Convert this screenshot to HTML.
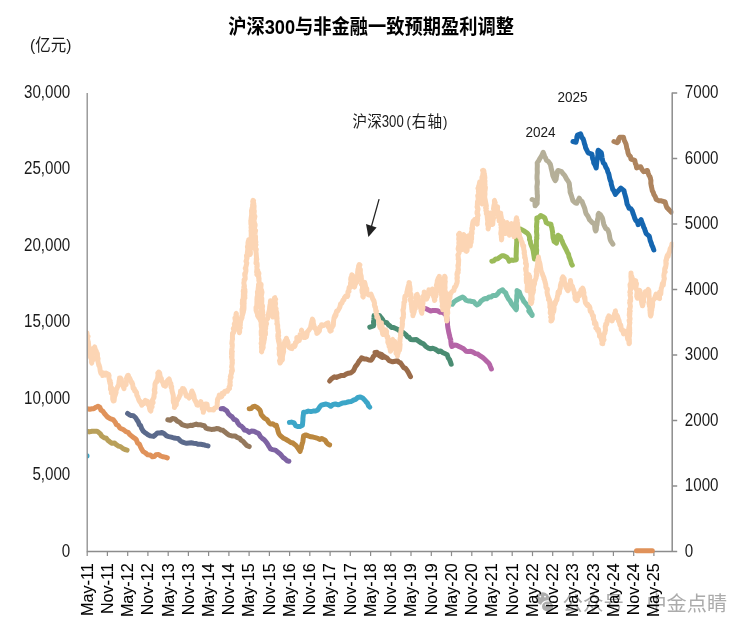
<!DOCTYPE html>
<html lang="zh"><head><meta charset="utf-8"><title>沪深300与非金融一致预期盈利调整</title>
<style>
html,body{margin:0;padding:0;background:#fff;}
body{width:752px;height:634px;overflow:hidden;position:relative;font-family:"Liberation Sans","Noto Sans CJK SC",sans-serif;}
svg{position:absolute;left:0;top:0;display:block;}
text{font-family:"Liberation Sans","Noto Sans CJK SC",sans-serif;fill:#1a1a1a;}
.ln{fill:none;stroke-width:5.0;stroke-linejoin:round;stroke-linecap:round;}
.ax{stroke:#8c8c8c;fill:none;}
</style></head><body>
<svg width="752" height="634" viewBox="0 0 752 634">
<rect width="752" height="634" fill="#fff"/>
<g fill="#ababab">
<ellipse cx="542.6" cy="598.6" rx="6.8" ry="6.3"/><ellipse cx="547.6" cy="606.4" rx="6.2" ry="5.6" stroke="#fff" stroke-width="1.2"/>
<circle cx="540.3" cy="596.6" r="0.9" fill="#fff"/><circle cx="545" cy="596.6" r="0.9" fill="#fff"/><circle cx="545.6" cy="605" r="0.8" fill="#fff"/><circle cx="549.6" cy="605" r="0.8" fill="#fff"/>
<text x="562.6" y="610.5" font-size="20.5" style="fill:#ababab">公众号</text><text x="634.5" y="610.5" font-size="20.5" text-anchor="middle" style="fill:#ababab">·</text><text x="646.4" y="610.5" font-size="20.2" style="fill:#ababab">中金点睛</text>
</g>
<text transform="translate(371.1,34.1) scale(1,1.13)" text-anchor="middle" font-size="18.25" font-weight="bold" style="fill:#000">沪深300与非金融一致预期盈利调整</text>
<text transform="translate(30.1,50.5) scale(1,1.08)" font-size="15.5">(亿元)</text>
<text transform="translate(70.3,556.5) scale(0.866,1)" text-anchor="end" font-size="17.5">0</text>
<text transform="translate(70.3,480.1) scale(0.866,1)" text-anchor="end" font-size="17.5">5,000</text>
<text transform="translate(70.3,403.7) scale(0.866,1)" text-anchor="end" font-size="17.5">10,000</text>
<text transform="translate(70.3,327.2) scale(0.866,1)" text-anchor="end" font-size="17.5">15,000</text>
<text transform="translate(70.3,250.8) scale(0.866,1)" text-anchor="end" font-size="17.5">20,000</text>
<text transform="translate(70.3,174.4) scale(0.866,1)" text-anchor="end" font-size="17.5">25,000</text>
<text transform="translate(70.3,98.0) scale(0.866,1)" text-anchor="end" font-size="17.5">30,000</text>
<path class="ax" stroke-width="1.5" d="M672.2,551.5 h5"/>
<text transform="translate(684.8,556.8) scale(0.866,1)" font-size="17.5">0</text>
<path class="ax" stroke-width="1.5" d="M672.2,486.0 h5"/>
<text transform="translate(684.8,491.3) scale(0.866,1)" font-size="17.5">1000</text>
<path class="ax" stroke-width="1.5" d="M672.2,420.5 h5"/>
<text transform="translate(684.8,425.8) scale(0.866,1)" font-size="17.5">2000</text>
<path class="ax" stroke-width="1.5" d="M672.2,355.0 h5"/>
<text transform="translate(684.8,360.3) scale(0.866,1)" font-size="17.5">3000</text>
<path class="ax" stroke-width="1.5" d="M672.2,289.5 h5"/>
<text transform="translate(684.8,294.8) scale(0.866,1)" font-size="17.5">4000</text>
<path class="ax" stroke-width="1.5" d="M672.2,224.0 h5"/>
<text transform="translate(684.8,229.3) scale(0.866,1)" font-size="17.5">5000</text>
<path class="ax" stroke-width="1.5" d="M672.2,158.5 h5"/>
<text transform="translate(684.8,163.8) scale(0.866,1)" font-size="17.5">6000</text>
<path class="ax" stroke-width="1.5" d="M672.2,93.0 h5"/>
<text transform="translate(684.8,98.3) scale(0.866,1)" font-size="17.5">7000</text>
<path class="ax" stroke-width="1.2" d="M87.2,551.5 v4.6"/>
<text transform="translate(92.5,563.4) rotate(-90)" text-anchor="end" font-size="16.1" style="fill:#000;stroke:#000;stroke-width:0.08">May-11</text>
<path class="ax" stroke-width="1.2" d="M107.4,551.5 v4.6"/>
<text transform="translate(112.7,563.4) rotate(-90)" text-anchor="end" font-size="16.1" style="fill:#000;stroke:#000;stroke-width:0.08">Nov-11</text>
<path class="ax" stroke-width="1.2" d="M127.7,551.5 v4.6"/>
<text transform="translate(133.0,563.4) rotate(-90)" text-anchor="end" font-size="16.1" style="fill:#000;stroke:#000;stroke-width:0.08">May-12</text>
<path class="ax" stroke-width="1.2" d="M147.9,551.5 v4.6"/>
<text transform="translate(153.2,563.4) rotate(-90)" text-anchor="end" font-size="16.1" style="fill:#000;stroke:#000;stroke-width:0.08">Nov-12</text>
<path class="ax" stroke-width="1.2" d="M168.2,551.5 v4.6"/>
<text transform="translate(173.5,563.4) rotate(-90)" text-anchor="end" font-size="16.1" style="fill:#000;stroke:#000;stroke-width:0.08">May-13</text>
<path class="ax" stroke-width="1.2" d="M188.4,551.5 v4.6"/>
<text transform="translate(193.7,563.4) rotate(-90)" text-anchor="end" font-size="16.1" style="fill:#000;stroke:#000;stroke-width:0.08">Nov-13</text>
<path class="ax" stroke-width="1.2" d="M208.6,551.5 v4.6"/>
<text transform="translate(213.9,563.4) rotate(-90)" text-anchor="end" font-size="16.1" style="fill:#000;stroke:#000;stroke-width:0.08">May-14</text>
<path class="ax" stroke-width="1.2" d="M228.9,551.5 v4.6"/>
<text transform="translate(234.2,563.4) rotate(-90)" text-anchor="end" font-size="16.1" style="fill:#000;stroke:#000;stroke-width:0.08">Nov-14</text>
<path class="ax" stroke-width="1.2" d="M249.1,551.5 v4.6"/>
<text transform="translate(254.4,563.4) rotate(-90)" text-anchor="end" font-size="16.1" style="fill:#000;stroke:#000;stroke-width:0.08">May-15</text>
<path class="ax" stroke-width="1.2" d="M269.4,551.5 v4.6"/>
<text transform="translate(274.7,563.4) rotate(-90)" text-anchor="end" font-size="16.1" style="fill:#000;stroke:#000;stroke-width:0.08">Nov-15</text>
<path class="ax" stroke-width="1.2" d="M289.6,551.5 v4.6"/>
<text transform="translate(294.9,563.4) rotate(-90)" text-anchor="end" font-size="16.1" style="fill:#000;stroke:#000;stroke-width:0.08">May-16</text>
<path class="ax" stroke-width="1.2" d="M309.8,551.5 v4.6"/>
<text transform="translate(315.1,563.4) rotate(-90)" text-anchor="end" font-size="16.1" style="fill:#000;stroke:#000;stroke-width:0.08">Nov-16</text>
<path class="ax" stroke-width="1.2" d="M330.1,551.5 v4.6"/>
<text transform="translate(335.4,563.4) rotate(-90)" text-anchor="end" font-size="16.1" style="fill:#000;stroke:#000;stroke-width:0.08">May-17</text>
<path class="ax" stroke-width="1.2" d="M350.3,551.5 v4.6"/>
<text transform="translate(355.6,563.4) rotate(-90)" text-anchor="end" font-size="16.1" style="fill:#000;stroke:#000;stroke-width:0.08">Nov-17</text>
<path class="ax" stroke-width="1.2" d="M370.6,551.5 v4.6"/>
<text transform="translate(375.9,563.4) rotate(-90)" text-anchor="end" font-size="16.1" style="fill:#000;stroke:#000;stroke-width:0.08">May-18</text>
<path class="ax" stroke-width="1.2" d="M390.8,551.5 v4.6"/>
<text transform="translate(396.1,563.4) rotate(-90)" text-anchor="end" font-size="16.1" style="fill:#000;stroke:#000;stroke-width:0.08">Nov-18</text>
<path class="ax" stroke-width="1.2" d="M411.0,551.5 v4.6"/>
<text transform="translate(416.3,563.4) rotate(-90)" text-anchor="end" font-size="16.1" style="fill:#000;stroke:#000;stroke-width:0.08">May-19</text>
<path class="ax" stroke-width="1.2" d="M431.3,551.5 v4.6"/>
<text transform="translate(436.6,563.4) rotate(-90)" text-anchor="end" font-size="16.1" style="fill:#000;stroke:#000;stroke-width:0.08">Nov-19</text>
<path class="ax" stroke-width="1.2" d="M451.5,551.5 v4.6"/>
<text transform="translate(456.8,563.4) rotate(-90)" text-anchor="end" font-size="16.1" style="fill:#000;stroke:#000;stroke-width:0.08">May-20</text>
<path class="ax" stroke-width="1.2" d="M471.8,551.5 v4.6"/>
<text transform="translate(477.1,563.4) rotate(-90)" text-anchor="end" font-size="16.1" style="fill:#000;stroke:#000;stroke-width:0.08">Nov-20</text>
<path class="ax" stroke-width="1.2" d="M492.0,551.5 v4.6"/>
<text transform="translate(497.3,563.4) rotate(-90)" text-anchor="end" font-size="16.1" style="fill:#000;stroke:#000;stroke-width:0.08">May-21</text>
<path class="ax" stroke-width="1.2" d="M512.2,551.5 v4.6"/>
<text transform="translate(517.5,563.4) rotate(-90)" text-anchor="end" font-size="16.1" style="fill:#000;stroke:#000;stroke-width:0.08">Nov-21</text>
<path class="ax" stroke-width="1.2" d="M532.5,551.5 v4.6"/>
<text transform="translate(537.8,563.4) rotate(-90)" text-anchor="end" font-size="16.1" style="fill:#000;stroke:#000;stroke-width:0.08">May-22</text>
<path class="ax" stroke-width="1.2" d="M552.7,551.5 v4.6"/>
<text transform="translate(558.0,563.4) rotate(-90)" text-anchor="end" font-size="16.1" style="fill:#000;stroke:#000;stroke-width:0.08">Nov-22</text>
<path class="ax" stroke-width="1.2" d="M573.0,551.5 v4.6"/>
<text transform="translate(578.3,563.4) rotate(-90)" text-anchor="end" font-size="16.1" style="fill:#000;stroke:#000;stroke-width:0.08">May-23</text>
<path class="ax" stroke-width="1.2" d="M593.2,551.5 v4.6"/>
<text transform="translate(598.5,563.4) rotate(-90)" text-anchor="end" font-size="16.1" style="fill:#000;stroke:#000;stroke-width:0.08">Nov-23</text>
<path class="ax" stroke-width="1.2" d="M613.4,551.5 v4.6"/>
<text transform="translate(618.7,563.4) rotate(-90)" text-anchor="end" font-size="16.1" style="fill:#000;stroke:#000;stroke-width:0.08">May-24</text>
<path class="ax" stroke-width="1.2" d="M633.7,551.5 v4.6"/>
<text transform="translate(639.0,563.4) rotate(-90)" text-anchor="end" font-size="16.1" style="fill:#000;stroke:#000;stroke-width:0.08">Nov-24</text>
<path class="ax" stroke-width="1.2" d="M653.9,551.5 v4.6"/>
<text transform="translate(659.2,563.4) rotate(-90)" text-anchor="end" font-size="16.1" style="fill:#000;stroke:#000;stroke-width:0.08">May-25</text>
<clipPath id="pc"><rect x="87.2" y="80" width="586.2" height="480"/></clipPath><g clip-path="url(#pc)">
<path class="ln" stroke="#B9A05A" d="M86.9,431.2 L89.2,431.9 L92.1,431.2 L94.2,431.3 L96.8,431.2 L98.4,432.2 L100.2,433.6 L101.6,435.9 L104.2,437.8 L106.3,438.3 L107.8,440.2 L109.8,441.8 L112.1,443.3 L114.6,443.0 L116.3,444.7 L118.5,446.1 L120.5,446.6 L122.8,448.4 L125.0,449.5 L127.1,450.1"/>
<path class="ln" stroke="#E0925A" d="M86.9,408.7 L89.6,409.3 L92.1,408.7 L93.8,408.7 L96.1,407.2 L98.0,406.3 L99.8,407.2 L100.9,410.0 L102.7,411.1 L104.6,413.7 L105.6,414.8 L107.5,417.0 L110.1,418.6 L112.2,419.4 L113.5,419.9 L115.4,422.4 L116.4,424.7 L118.1,425.3 L119.8,427.9 L121.9,428.9 L124.0,430.0 L125.9,431.7 L128.1,432.3 L129.9,434.7 L132.3,436.7 L134.7,438.3 L136.2,439.5 L137.6,443.1 L139.4,444.2 L140.8,447.5 L141.5,448.9 L143.0,451.3 L145.6,453.0 L147.7,454.8 L150.3,455.0 L152.4,456.7 L154.3,456.6 L156.0,454.8 L158.6,454.4 L160.7,456.0 L163.1,456.8 L165.2,457.1 L167.3,457.9"/>
<path class="ln" stroke="#5B6A8C" d="M127.6,413.4 L129.8,415.0 L131.3,415.6 L133.5,415.8 L135.4,417.5 L136.8,419.7 L138.2,421.7 L139.4,424.9 L140.5,425.5 L141.8,428.8 L143.2,431.1 L145.0,432.7 L146.5,433.6 L148.0,434.8 L150.1,435.9 L153.6,436.4 L155.2,435.0 L157.2,433.1 L159.2,433.1 L161.9,432.4 L164.3,433.7 L166.6,435.9 L168.8,436.6 L171.3,437.1 L173.9,438.0 L176.1,438.3 L178.1,438.5 L180.3,440.8 L182.0,441.8 L184.1,442.6 L186.6,443.3 L189.1,443.0 L191.2,442.8 L193.6,443.2 L196.2,443.5 L198.3,444.3 L200.6,444.2 L203.3,444.7 L205.6,445.4 L208.0,445.9"/>
<path class="ln" stroke="#94785C" d="M167.8,419.8 L170.3,420.3 L172.5,418.5 L174.9,418.9 L177.5,421.3 L179.6,422.2 L182.1,424.6 L184.4,425.3 L187.4,426.2 L190.3,425.3 L192.5,425.4 L193.9,424.8 L196.2,424.1 L198.3,424.8 L200.3,424.7 L202.1,425.3 L204.3,425.7 L206.1,428.2 L208.0,428.8 L211.2,429.4 L213.9,429.3 L216.3,428.6 L218.9,428.8 L221.0,430.0 L223.0,430.3 L224.7,431.8 L226.9,433.6 L229.2,435.2 L231.7,435.9 L235.0,435.9 L237.1,437.3 L239.7,438.3 L241.1,440.2 L243.1,441.4 L244.5,443.0 L246.8,445.4 L249.2,446.6"/>
<path class="ln" stroke="#7E63A3" d="M221.0,408.7 L223.1,408.5 L225.2,409.8 L226.9,411.1 L228.6,414.0 L230.5,415.8 L232.0,416.7 L234.0,419.4 L235.0,419.4 L236.7,420.7 L237.9,423.2 L239.7,425.3 L241.0,425.9 L242.8,427.5 L244.5,430.0 L246.8,430.5 L249.2,432.4 L251.4,431.0 L253.9,431.2 L256.4,432.5 L258.7,433.6 L260.5,436.7 L262.2,438.3 L263.7,439.3 L265.1,440.7 L266.9,443.0 L268.4,445.6 L269.3,447.0 L270.5,448.9 L272.6,449.6 L275.2,450.1 L277.7,452.0 L279.9,453.7 L281.5,455.5 L283.1,457.5 L284.7,458.4 L287.1,460.8 L288.9,461.2"/>
<path class="ln" stroke="#BB873E" d="M249.2,408.7 L251.2,408.5 L252.9,406.7 L255.1,406.3 L257.8,407.9 L259.8,409.9 L260.4,411.2 L261.2,414.5 L262.2,415.8 L264.5,418.3 L266.9,419.4 L268.8,422.4 L270.5,424.1 L272.7,423.7 L274.7,425.4 L276.4,425.3 L277.0,427.5 L277.8,430.1 L277.9,430.7 L278.8,433.6 L280.2,435.6 L281.9,436.9 L283.5,438.3 L285.7,439.3 L288.2,440.7 L290.8,442.5 L293.0,443.0 L294.4,444.3 L296.0,445.5 L297.7,447.8 L298.9,449.5 L300.1,451.3 L300.5,449.7 L301.3,448.0 L301.6,445.7 L302.4,443.0 L302.9,441.4 L303.2,438.9 L303.6,435.9 L305.8,434.9 L308.3,435.9 L310.9,436.8 L313.1,437.1 L315.3,437.6 L317.8,438.3 L319.7,439.5 L321.7,438.5 L323.7,439.5 L325.2,440.2 L326.5,442.5 L328.2,444.3 L329.6,444.9"/>
<path class="ln" stroke="#3CA6C8" d="M289.4,422.4 L291.5,422.1 L294.1,422.9 L295.6,425.6 L297.7,426.5 L299.9,426.6 L302.4,425.3 L302.7,422.3 L302.9,420.2 L302.9,418.5 L303.1,416.4 L303.5,413.6 L303.6,412.3 L306.2,411.9 L308.3,411.1 L310.8,411.6 L313.1,411.1 L315.4,411.1 L317.8,409.9 L319.8,406.8 L321.3,405.2 L323.8,404.5 L326.1,404.0 L328.7,404.9 L330.8,406.3 L333.0,404.5 L335.5,404.0 L338.2,404.8 L340.3,404.0 L342.6,402.9 L345.0,402.8 L346.8,402.3 L348.9,401.8 L350.9,401.6 L353.4,400.2 L355.7,399.3 L357.8,397.5 L360.4,396.9 L363.0,398.3 L365.1,400.4 L366.4,402.2 L367.5,403.2 L368.5,405.7 L369.8,407.1"/>
<path class="ln" stroke="#9B6C4A" d="M329.6,381.0 L331.4,378.8 L332.5,378.1 L334.4,376.8 L336.5,377.4 L339.1,376.3 L341.5,375.4 L343.8,375.6 L346.0,374.2 L348.6,373.2 L351.2,372.7 L353.3,370.9 L354.2,369.3 L355.4,366.6 L356.8,364.9 L357.7,363.6 L359.2,361.0 L360.7,359.3 L361.6,357.9 L364.1,358.9 L366.3,359.0 L368.8,360.0 L371.0,360.2 L372.2,358.9 L373.3,356.6 L374.5,355.4 L375.8,353.1 L377.9,353.4 L380.5,354.3 L382.8,356.2 L385.0,356.7 L383.1,355.9 L381.2,354.2 L378.9,354.6 L377.0,352.3 L375.0,352.4 L377.3,354.1 L379.7,355.9 L382.1,357.4 L384.5,357.1 L386.8,357.9 L389.2,360.7 L392.7,361.8 L395.2,361.2 L397.5,360.7 L399.2,362.4 L400.5,362.9 L402.2,365.4 L403.7,367.6 L405.5,368.4 L406.9,370.1 L408.3,372.3 L409.3,374.3 L410.5,376.7"/>
<path class="ln" stroke="#4A8C72" d="M369.8,327.2 L373.4,326.0 L373.8,324.6 L373.5,322.1 L373.8,320.0 L374.0,317.4 L374.1,315.4 L377.0,315.6 L379.3,315.4 L381.0,317.5 L382.9,320.1 L381.4,318.1 L379.9,317.0 L378.5,315.7 L380.3,318.2 L382.1,320.4 L384.6,322.3 L386.8,322.8 L388.5,325.0 L390.0,325.9 L391.6,327.5 L393.7,327.6 L396.3,328.7 L398.5,329.9 L401.0,332.3 L403.1,332.5 L405.8,334.6 L407.6,337.0 L409.0,337.3 L410.5,339.4 L413.2,339.7 L416.4,339.4 L419.0,341.4 L421.1,342.9 L423.5,343.8 L425.9,346.5 L428.4,348.1 L430.6,348.8 L432.8,348.2 L434.8,349.0 L436.5,350.0 L438.5,351.7 L440.6,350.9 L442.4,352.4 L444.8,353.5 L447.2,354.7 L448.3,358.0 L449.5,359.5 L450.4,361.9 L451.2,364.2"/>
<path class="ln" stroke="#B565A7" d="M425.9,308.6 L428.1,309.8 L430.6,311.0 L433.1,310.4 L435.3,310.5 L437.6,310.8 L440.1,312.2 L442.1,312.3 L443.9,313.2 L446.0,313.3 L446.2,316.4 L446.8,317.1 L447.2,320.4 L447.5,322.1 L447.5,324.8 L447.8,327.2 L448.3,329.9 L448.8,332.6 L449.6,335.6 L449.9,337.6 L450.7,339.4 L450.8,340.9 L451.2,344.8 L451.9,346.5 L454.4,345.1 L456.6,345.3 L459.0,346.5 L461.3,347.6 L463.6,348.8 L466.1,351.2 L468.2,351.5 L470.8,351.2 L473.0,352.1 L475.5,353.6 L477.7,354.0 L480.3,355.9 L482.9,357.6 L485.0,359.5 L486.5,361.1 L488.6,363.0 L489.5,364.3 L490.3,366.4 L491.4,368.9"/>
<path class="ln" stroke="#72BDA8" d="M452.3,304.2 L454.1,301.7 L456.3,300.2 L459.5,298.6 L462.7,297.0 L464.2,298.0 L465.9,300.2 L468.1,301.0 L469.9,301.0 L472.1,301.6 L473.9,301.8 L475.2,303.5 L477.1,305.0 L479.2,303.6 L481.1,301.0 L483.3,299.4 L485.1,298.6 L486.8,298.8 L489.0,297.0 L491.3,296.9 L493.0,295.4 L496.2,295.4 L498.1,293.3 L499.4,291.4 L502.6,289.8 L503.9,291.5 L505.8,293.0 L506.5,295.2 L507.4,296.8 L508.2,298.6 L509.9,300.5 L511.4,303.4 L513.8,306.6 L516.2,309.8 L516.5,308.4 L516.5,305.7 L516.2,303.0 L516.6,301.0 L516.6,299.9 L516.8,297.9 L516.8,295.6 L517.2,293.3 L517.0,290.6 L519.4,292.2 L520.4,295.3 L521.3,296.9 L522.5,298.6 L523.9,301.6 L525.7,303.4 L527.5,306.0 L528.9,308.2 L530.0,310.7 L531.0,312.7 L532.1,314.6 L530.3,312.3 L528.8,310.9 L530.7,313.4 L532.1,315.4"/>
<path class="ln" stroke="#9BBB59" d="M491.8,261.2 L493.6,260.9 L495.8,258.9 L497.8,258.7 L499.7,257.3 L501.9,255.8 L503.7,255.7 L506.8,257.3 L508.2,259.0 L509.2,261.2 L511.4,259.9 L513.1,260.4 L516.3,259.7 L516.3,258.2 L516.1,256.1 L516.2,254.3 L516.3,251.3 L516.3,249.9 L516.4,247.2 L516.6,245.0 L516.7,242.5 L516.8,241.1 L516.6,238.4 L516.9,236.5 L517.4,233.2 L517.5,230.9 L517.5,228.9 L520.0,228.9 L521.8,229.7 L523.5,230.6 L525.7,232.1 L527.4,233.3 L528.9,235.2 L529.6,237.5 L529.5,239.6 L530.3,241.1 L530.5,243.1 L531.3,245.4 L532.2,247.4 L532.8,249.4 L533.2,250.9 L533.8,254.8 L534.1,256.7 L534.4,258.9 L536.5,257.3 L536.6,255.7 L536.4,253.5 L536.7,250.3 L536.3,248.0 L536.5,246.1 L536.4,244.7 L536.4,242.7 L536.4,240.2 L536.9,238.2 L536.6,237.5 L536.9,235.4 L536.5,231.7 L536.6,230.5 L536.7,227.9 L536.5,226.8 L536.7,223.7 L537.0,221.4 L536.8,220.2 L536.8,217.9 L538.8,217.5 L540.7,215.5 L542.9,216.7 L544.7,217.9 L545.4,219.7 L546.2,222.6 L548.4,223.8 L551.0,224.2 L551.2,226.0 L552.0,228.4 L552.0,229.1 L552.6,232.1 L552.7,233.7 L553.1,237.8 L553.8,240.0 L554.1,241.5 L556.5,243.1 L556.9,241.2 L557.1,238.8 L557.4,237.2 L558.1,235.2 L560.4,236.8 L561.0,238.8 L562.3,241.3 L562.8,243.1 L564.0,245.4 L565.2,247.8 L566.1,249.4 L567.5,252.6 L568.5,254.1 L569.0,256.7 L569.9,258.9 L570.9,261.8 L571.3,263.5 L572.3,265.2"/>
<path class="ln" stroke="#B5AF98" d="M532.1,199.5 L535.1,200.8 L535.0,203.7 L535.1,205.8 L537.2,203.3 L537.1,200.7 L537.3,200.2 L537.4,197.0 L537.4,195.2 L537.2,193.9 L537.2,191.5 L537.0,189.0 L536.9,186.5 L537.0,185.8 L537.3,183.8 L537.4,181.7 L537.0,178.5 L537.0,176.1 L537.1,174.8 L537.3,172.9 L537.3,171.9 L537.2,169.1 L537.3,166.3 L537.3,164.5 L537.2,162.9 L538.6,160.9 L540.2,157.9 L541.2,156.6 L542.3,154.5 L543.2,152.3 L544.1,154.7 L544.6,156.7 L545.4,157.6 L546.5,160.4 L548.3,161.4 L550.3,164.2 L551.0,167.1 L551.1,167.8 L552.0,171.5 L552.2,172.3 L552.8,175.5 L554.2,178.9 L555.3,180.6 L556.1,179.2 L556.4,176.7 L556.8,174.9 L557.1,172.3 L557.9,170.5 L561.6,171.7 L563.1,173.7 L564.4,175.1 L565.4,176.8 L567.0,179.7 L567.8,180.6 L569.2,183.1 L569.5,185.4 L569.6,187.0 L570.0,189.0 L570.1,191.9 L570.5,193.2 L571.5,195.9 L572.4,199.1 L573.0,200.8 L574.8,202.6 L576.8,203.3 L577.9,200.9 L579.3,198.2 L580.6,200.5 L582.1,201.6 L583.1,204.5 L584.0,206.5 L584.8,208.6 L585.6,212.1 L586.3,214.1 L587.6,215.8 L588.6,217.6 L589.4,219.7 L590.8,221.0 L592.5,222.9 L594.4,223.5 L594.6,225.6 L595.0,229.3 L595.7,231.0 L596.3,229.7 L596.5,226.4 L597.0,224.7 L597.4,221.3 L597.5,219.6 L598.1,217.3 L598.1,214.8 L598.7,213.4 L600.5,214.8 L602.0,217.2 L602.7,219.2 L603.0,220.7 L603.8,224.4 L604.5,226.0 L605.8,228.5 L607.3,229.4 L608.3,231.0 L608.9,232.9 L609.3,234.5 L609.8,237.9 L610.3,239.9 L610.9,241.1 L612.9,244.2"/>
<path class="ln" stroke="#1566B0" d="M573.0,141.5 L576.0,142.2 L576.7,139.2 L576.9,136.8 L577.5,135.1 L580.6,133.9 L581.8,137.3 L583.1,138.9 L583.8,140.8 L584.6,144.1 L585.1,145.3 L585.6,147.8 L586.9,150.2 L588.1,152.8 L591.9,154.1 L592.2,156.3 L592.7,158.9 L593.5,160.5 L593.7,162.9 L594.8,164.6 L596.2,167.9 L596.4,166.0 L596.7,162.6 L596.8,161.4 L597.5,158.1 L597.6,157.3 L598.0,155.0 L597.8,151.9 L598.2,150.3 L601.3,152.8 L601.7,154.7 L602.0,157.6 L602.2,159.0 L602.8,161.1 L603.3,162.9 L604.7,164.1 L605.8,167.1 L607.1,169.2 L607.9,172.2 L608.6,173.3 L609.1,175.4 L609.6,178.0 L610.5,181.0 L611.0,181.5 L611.3,184.2 L612.1,186.9 L612.8,189.5 L613.7,190.5 L614.4,192.3 L615.4,194.4 L617.0,192.2 L618.4,190.7 L620.9,188.1 L624.0,190.7 L624.6,193.4 L625.1,195.1 L625.7,197.2 L626.2,199.1 L626.5,200.8 L627.1,204.1 L628.4,206.5 L629.0,208.3 L630.8,208.6 L632.3,210.9 L632.9,213.0 L633.8,215.3 L634.8,218.4 L635.9,220.6 L637.3,221.7 L638.1,224.7 L639.5,221.6 L641.1,219.7 L642.1,222.9 L642.9,224.5 L643.7,227.3 L644.5,228.6 L645.2,230.9 L646.2,233.6 L649.2,236.1 L649.6,237.5 L650.2,240.5 L651.4,243.5 L651.7,244.9 L652.8,247.2 L653.8,250.0"/>
<path class="ln" stroke="#AE845E" d="M613.9,141.5 L617.2,142.7 L618.3,141.6 L618.6,139.0 L619.7,137.2 L623.5,137.2 L624.2,140.2 L625.2,142.3 L626.0,144.0 L626.3,145.3 L626.8,148.2 L627.5,149.9 L628.0,152.8 L628.9,155.2 L630.3,156.2 L631.0,159.1 L634.8,160.4 L635.4,163.8 L636.0,164.6 L636.6,167.9 L638.8,166.9 L640.6,166.7 L642.1,169.7 L643.7,171.7 L647.4,170.5 L648.3,173.5 L649.0,175.5 L650.0,176.8 L650.3,178.2 L650.9,180.4 L650.8,183.4 L651.2,185.6 L651.8,188.2 L652.3,190.8 L653.4,192.8 L653.8,194.4 L655.2,196.6 L656.3,199.5 L659.0,200.7 L661.3,200.8 L665.1,202.0 L665.8,204.7 L666.7,207.2 L667.6,208.3 L669.5,210.3 L671.4,212.1"/>
<path class="ln" stroke="#3CA6C8" stroke-width="4.4" d="M87,455.7 v0.2"/>
<path class="ln" stroke="#FCD5B4" stroke-width="5.7" d="M87.0,333.0 L87.2,336.4 L87.0,337.4 L88.0,336.5 L87.2,336.9 L88.2,341.9 L87.9,343.3 L88.3,341.6 L88.6,344.7 L88.5,346.0 L89.2,347.1 L89.2,349.3 L89.4,351.5 L89.5,352.3 L89.3,351.8 L89.9,355.5 L90.2,356.9 L90.6,357.0 L91.6,360.2 L91.4,361.9 L91.8,363.1 L92.0,360.7 L92.6,359.5 L92.9,360.0 L92.2,356.4 L92.4,356.2 L92.4,354.4 L93.0,351.9 L93.8,350.8 L93.8,348.2 L94.7,347.0 L95.3,349.5 L95.5,350.0 L96.3,351.0 L96.4,353.3 L96.8,353.4 L97.4,353.5 L97.5,356.8 L96.8,357.8 L98.1,358.5 L97.8,360.9 L98.3,363.0 L98.9,365.7 L98.9,364.4 L99.7,367.1 L99.8,367.5 L100.2,370.8 L100.9,373.2 L101.7,372.3 L102.5,374.1 L102.7,375.6 L103.8,373.1 L105.2,375.0 L106.3,373.2 L108.7,374.4 L109.1,375.7 L108.8,376.0 L108.9,377.6 L109.6,381.8 L110.2,380.8 L109.9,383.4 L110.7,383.2 L110.6,386.2 L110.5,389.5 L111.2,387.3 L112.1,388.5 L111.3,392.9 L112.2,393.1 L112.1,393.1 L112.7,395.2 L112.7,399.1 L113.3,400.9 L113.9,400.4 L114.1,400.8 L114.3,398.8 L114.9,394.1 L114.9,396.1 L116.1,392.4 L116.0,392.2 L116.0,390.1 L116.9,388.6 L117.2,387.8 L118.1,385.7 L118.7,384.7 L118.9,383.0 L119.2,380.4 L119.4,381.5 L119.5,378.0 L120.5,378.0 L121.4,379.4 L121.2,380.9 L121.8,383.0 L122.2,383.3 L122.2,383.6 L123.0,386.1 L123.0,386.0 L124.0,388.6 L124.1,385.6 L124.9,384.2 L124.9,382.8 L126.1,384.7 L126.1,381.8 L126.9,380.8 L126.5,378.3 L126.8,377.5 L127.6,375.6 L128.3,375.3 L129.1,378.6 L129.7,378.1 L131.1,381.5 L132.0,382.5 L131.7,383.2 L132.6,383.8 L133.1,388.2 L133.3,387.7 L134.3,388.8 L134.7,391.0 L135.1,390.5 L136.6,392.7 L136.8,395.2 L137.8,396.8 L138.2,398.1 L139.0,400.4 L139.9,401.8 L140.6,401.5 L141.0,403.4 L141.8,405.2 L142.2,403.9 L143.9,402.7 L144.1,403.6 L145.3,400.4 L147.7,401.6 L147.9,402.1 L148.5,405.3 L149.2,404.5 L149.5,408.3 L150.0,410.1 L150.7,411.0 L150.8,411.1 L151.0,410.0 L151.1,407.4 L152.1,406.9 L151.6,404.3 L152.3,403.9 L153.1,402.7 L152.4,400.0 L153.9,397.7 L153.6,398.1 L154.1,396.5 L153.9,396.7 L154.3,393.7 L155.0,392.6 L154.3,389.3 L154.3,390.8 L154.9,388.7 L154.9,387.9 L155.0,383.7 L155.2,384.1 L156.0,381.5 L156.9,381.6 L157.2,379.4 L157.5,379.3 L158.1,374.6 L157.8,373.0 L158.7,372.2 L158.8,372.0 L159.7,373.1 L160.1,376.1 L159.8,374.5 L160.9,379.4 L161.3,378.3 L161.5,380.8 L161.9,381.5 L162.5,381.6 L163.7,385.5 L164.6,384.9 L165.4,386.2 L166.4,383.1 L167.3,383.2 L167.3,380.8 L167.9,380.1 L169.0,379.1 L169.1,379.0 L170.2,382.8 L170.6,383.4 L170.9,383.6 L171.0,387.1 L171.7,386.6 L171.6,388.1 L172.1,391.0 L172.1,391.2 L173.1,394.7 L173.3,396.1 L173.3,398.7 L173.4,399.2 L173.2,400.7 L173.4,401.0 L173.4,402.2 L174.2,403.6 L174.6,405.5 L174.4,407.5 L175.4,405.1 L175.1,406.0 L176.3,404.8 L176.4,401.2 L177.3,400.4 L178.0,398.9 L178.6,398.2 L179.6,395.7 L180.3,394.8 L180.5,391.1 L181.7,391.1 L182.2,390.9 L182.5,388.6 L183.6,388.8 L184.4,390.0 L184.8,391.2 L185.5,393.3 L186.4,396.2 L187.0,396.4 L188.7,396.8 L189.1,398.1 L189.6,397.6 L190.7,394.4 L190.7,395.7 L191.0,393.9 L191.9,391.0 L192.7,393.4 L192.8,392.8 L193.6,395.1 L193.9,395.8 L193.9,395.9 L194.6,399.8 L195.0,400.4 L196.0,402.4 L196.0,401.3 L197.0,405.1 L198.1,405.2 L199.2,404.1 L200.4,403.7 L200.9,401.6 L200.9,401.8 L202.1,406.2 L202.4,406.7 L202.2,408.5 L202.5,408.9 L203.3,410.3 L203.3,412.3 L204.1,409.1 L203.9,408.0 L204.3,407.5 L205.1,407.5 L205.3,404.0 L206.1,404.0 L207.1,404.2 L207.4,408.2 L209.0,409.2 L209.2,409.9 L210.5,409.5 L212.8,409.9 L213.6,409.9 L214.8,407.9 L216.3,407.5 L217.2,405.6 L217.2,402.8 L217.5,400.8 L217.4,399.7 L218.0,398.4 L218.7,398.1 L219.3,395.1 L221.0,396.9 L221.8,396.5 L222.2,393.3 L223.9,393.9 L224.5,391.6 L225.8,391.0 L227.4,391.3 L228.0,389.7 L229.5,388.6 L229.1,386.9 L230.3,385.3 L229.9,384.1 L230.3,381.9 L230.1,381.6 L230.0,379.8 L231.1,377.3 L230.4,376.6 L231.0,376.7 L230.6,375.7 L231.5,373.3 L231.4,371.0 L232.1,369.4 L232.4,370.7 L231.9,367.3 L231.6,366.9 L232.4,362.8 L232.0,362.5 L232.4,359.8 L232.3,361.3 L231.5,356.8 L232.0,357.1 L232.1,353.6 L231.5,353.9 L231.6,351.0 L232.3,351.6 L231.6,351.0 L232.1,347.8 L232.3,345.4 L232.3,345.0 L232.2,343.8 L231.8,343.6 L232.2,340.3 L232.5,339.3 L232.5,338.2 L232.4,337.9 L232.5,333.1 L233.6,332.5 L232.9,333.5 L234.0,330.8 L233.3,328.5 L233.8,327.9 L233.5,328.3 L234.7,326.0 L235.1,322.9 L234.3,324.1 L235.5,321.4 L235.1,319.2 L234.9,317.9 L236.0,317.1 L236.4,313.7 L236.2,313.5 L235.9,315.1 L237.2,318.1 L236.5,318.0 L237.3,319.4 L236.8,322.7 L237.6,320.6 L237.4,325.7 L238.5,325.7 L238.1,325.2 L238.8,329.1 L238.5,329.3 L239.0,331.1 L239.4,332.7 L239.7,331.6 L239.5,328.9 L239.8,328.5 L240.3,327.8 L239.7,327.3 L240.4,324.9 L240.2,324.4 L240.7,320.9 L241.0,319.9 L242.0,317.7 L242.2,315.1 L241.9,315.7 L242.5,315.0 L243.4,311.9 L243.3,311.7 L243.8,310.0 L244.0,308.4 L244.0,304.0 L244.2,303.2 L244.0,302.1 L244.0,301.3 L244.3,298.4 L244.9,297.9 L243.9,295.9 L244.9,296.0 L244.1,292.2 L245.0,291.8 L244.5,291.0 L244.9,289.6 L244.9,290.5 L244.8,294.5 L244.0,293.4 L243.8,296.0 L244.2,297.0 L244.0,298.3 L244.1,301.6 L244.0,301.1 L243.6,303.1 L243.3,302.6 L242.5,307.6 L242.6,305.8 L242.9,307.1 L242.8,311.8 L242.5,309.9 L242.1,313.0 L242.2,312.1 L242.0,309.3 L242.8,307.7 L243.0,305.6 L242.3,303.9 L242.3,302.4 L242.9,302.9 L242.4,300.2 L243.4,300.1 L243.2,297.2 L243.4,296.5 L243.3,294.6 L243.4,296.0 L243.4,291.6 L243.2,291.2 L243.8,288.5 L243.9,286.6 L244.4,287.0 L244.4,285.7 L243.8,283.0 L244.3,280.8 L244.1,280.0 L244.5,279.9 L245.2,278.8 L245.1,276.5 L244.7,273.7 L244.8,276.0 L245.6,272.2 L245.9,271.2 L245.9,269.5 L245.7,267.7 L245.3,268.3 L245.7,267.6 L246.7,263.5 L246.8,263.1 L246.0,261.3 L247.0,258.3 L246.8,258.6 L246.5,255.4 L246.6,256.9 L247.8,255.7 L248.0,252.4 L247.3,253.0 L247.9,248.3 L247.5,247.6 L247.4,246.6 L248.0,246.7 L248.0,242.5 L248.4,240.9 L249.0,241.1 L248.7,239.7 L248.7,241.7 L248.5,243.0 L248.7,243.3 L249.6,245.2 L249.6,248.4 L250.3,248.0 L250.1,249.6 L250.3,251.5 L250.4,252.6 L250.4,253.9 L250.2,254.4 L250.2,250.0 L250.9,248.0 L250.0,249.7 L250.4,248.4 L250.3,245.2 L251.2,245.7 L250.5,243.0 L251.0,239.1 L250.4,239.6 L250.7,239.4 L251.2,237.2 L251.2,234.0 L251.2,232.3 L251.2,232.5 L251.0,230.3 L251.5,230.6 L251.5,228.7 L251.0,227.6 L251.4,224.9 L251.2,224.3 L250.9,224.1 L250.8,220.4 L251.3,219.5 L251.1,219.0 L251.1,218.5 L251.7,214.2 L251.6,213.7 L251.6,212.3 L251.5,210.8 L252.1,208.4 L252.2,207.7 L252.6,208.3 L252.6,204.7 L253.3,202.9 L252.7,201.6 L253.5,200.6 L253.0,200.4 L253.8,203.5 L253.6,203.7 L254.1,206.0 L254.0,207.9 L253.9,209.8 L254.3,211.1 L254.2,212.6 L253.7,212.3 L254.8,217.1 L254.8,216.0 L254.9,216.4 L254.0,220.5 L254.0,220.7 L254.5,223.3 L255.1,224.4 L255.1,225.6 L254.8,226.5 L254.5,228.5 L254.7,231.5 L255.6,230.5 L255.1,232.6 L255.0,233.0 L255.1,234.2 L255.5,237.6 L255.5,236.5 L255.5,240.4 L255.9,242.2 L255.3,242.9 L255.3,244.8 L256.0,244.7 L255.1,246.7 L255.5,246.3 L255.4,249.7 L256.3,249.3 L255.9,251.5 L256.2,253.6 L256.3,255.2 L256.5,257.9 L256.8,259.2 L256.3,258.3 L256.3,261.0 L256.0,263.2 L256.6,262.0 L257.1,263.7 L257.2,266.4 L256.8,266.4 L257.0,268.5 L256.6,272.0 L257.8,270.4 L256.8,274.5 L257.5,275.2 L258.7,272.8 L258.9,273.5 L258.5,275.4 L259.1,279.0 L258.6,277.4 L259.1,281.3 L258.8,280.2 L259.3,282.5 L259.0,284.3 L259.8,284.5 L258.8,287.3 L259.4,288.4 L259.8,291.9 L260.0,292.1 L260.0,292.7 L260.0,296.6 L259.8,296.5 L260.2,294.9 L259.6,293.3 L260.3,293.7 L260.3,289.9 L260.5,287.7 L260.5,287.0 L260.9,285.6 L261.0,284.6 L261.1,284.3 L260.7,289.4 L260.8,288.1 L261.3,290.2 L261.5,290.1 L262.0,292.3 L261.1,296.9 L261.2,295.7 L261.2,299.1 L261.8,298.2 L261.8,302.2 L261.6,302.0 L261.5,304.1 L261.8,304.3 L262.6,306.3 L262.2,308.3 L262.6,311.2 L262.8,312.9 L262.5,312.8 L262.3,314.4 L263.0,314.8 L262.6,315.2 L262.7,318.1 L263.3,321.5 L263.2,322.0 L263.2,323.9 L263.3,323.0 L263.6,325.8 L263.4,327.2 L262.3,327.2 L262.7,322.8 L261.6,324.7 L261.3,322.8 L261.1,322.1 L260.1,319.5 L258.9,317.2 L259.1,318.0 L258.3,316.8 L257.6,315.7 L257.4,312.9 L257.0,312.8 L256.1,310.3 L256.0,307.5 L256.9,305.8 L256.8,305.0 L256.8,305.3 L256.9,302.4 L256.9,301.0 L257.3,301.6 L256.9,299.7 L257.1,296.8 L257.3,298.0 L257.7,296.5 L257.4,291.9 L258.4,291.0 L258.1,290.3 L258.0,291.0 L258.2,288.3 L258.7,284.3 L258.5,284.8 L259.8,284.8 L260.5,287.8 L260.9,289.6 L260.8,289.8 L261.4,293.1 L260.7,294.4 L261.0,294.2 L260.6,296.6 L260.9,296.7 L260.9,299.7 L260.9,301.9 L261.1,301.2 L261.4,305.2 L261.4,304.2 L260.9,305.1 L260.8,307.5 L261.6,310.1 L261.3,310.1 L261.7,310.3 L261.2,312.1 L260.9,315.4 L261.3,315.0 L261.2,316.1 L261.2,317.9 L261.8,319.9 L261.0,321.2 L261.3,323.8 L261.1,323.9 L261.3,326.9 L261.6,327.0 L261.7,330.5 L261.3,332.1 L261.2,330.9 L261.3,335.1 L262.1,335.7 L262.0,334.5 L262.0,337.2 L261.6,338.8 L261.4,338.5 L261.8,341.5 L261.1,343.3 L261.7,343.1 L261.7,345.3 L261.4,347.6 L262.1,348.7 L261.5,351.6 L261.7,351.8 L261.6,349.6 L262.3,349.4 L263.2,347.4 L263.0,346.0 L263.2,344.6 L263.8,342.6 L263.5,342.5 L264.1,340.6 L264.6,337.8 L264.4,336.1 L264.4,334.7 L264.6,334.6 L265.5,334.4 L265.4,331.7 L265.0,329.4 L265.7,328.5 L265.4,326.8 L265.8,326.4 L265.8,325.2 L266.6,323.8 L265.8,321.3 L266.5,319.9 L266.7,319.5 L267.7,318.6 L268.3,315.0 L268.5,313.5 L268.9,311.9 L269.6,309.0 L269.4,310.3 L269.9,308.3 L269.6,307.3 L270.0,304.8 L270.6,303.5 L270.3,302.8 L270.5,300.7 L271.1,301.3 L271.2,304.8 L270.7,304.0 L271.5,305.5 L271.8,309.8 L272.3,308.2 L272.5,309.0 L272.3,312.2 L272.7,314.1 L273.0,317.1 L272.9,316.7 L272.8,315.6 L273.5,313.9 L273.6,313.6 L273.6,309.1 L274.2,308.5 L273.5,306.2 L273.6,305.2 L273.6,305.7 L274.3,304.4 L274.0,301.9 L274.9,300.7 L274.9,298.2 L274.8,297.6 L274.4,298.3 L275.6,299.4 L274.8,299.9 L275.6,303.7 L275.3,303.6 L275.2,306.2 L275.3,309.0 L276.1,308.7 L275.7,309.5 L276.8,313.1 L276.1,312.0 L276.8,314.7 L276.7,315.3 L277.1,318.7 L276.7,318.1 L277.2,322.4 L277.1,323.2 L276.8,323.8 L277.6,324.7 L277.7,325.2 L277.7,327.9 L278.0,331.2 L278.1,329.5 L278.6,332.7 L277.9,334.5 L277.8,336.7 L278.7,335.7 L278.0,338.4 L279.0,339.7 L279.3,342.3 L278.4,340.7 L279.2,343.6 L279.5,345.7 L279.3,347.0 L279.0,348.2 L279.2,349.6 L279.6,349.5 L279.2,354.6 L280.1,354.0 L280.2,355.1 L280.3,356.3 L280.2,360.1 L280.1,361.5 L279.5,360.7 L280.1,363.0 L281.8,360.2 L282.4,359.8 L282.4,356.9 L282.3,357.9 L282.8,354.5 L282.6,355.3 L283.7,351.3 L283.5,350.5 L283.6,348.5 L283.5,346.5 L284.0,346.1 L284.3,343.4 L284.0,343.8 L285.1,340.8 L284.7,341.8 L285.8,340.2 L286.4,338.2 L287.1,341.0 L287.4,340.6 L288.1,344.1 L288.1,342.6 L288.0,344.8 L288.8,347.0 L290.5,348.3 L292.0,348.6 L292.8,345.7 L294.6,346.4 L295.2,345.4 L295.4,342.7 L296.1,342.3 L296.5,342.6 L296.9,339.6 L296.8,337.4 L298.0,338.1 L299.2,340.6 L300.1,337.2 L299.8,336.6 L300.4,334.6 L300.2,334.3 L301.2,334.8 L301.5,332.2 L301.6,330.3 L301.5,330.2 L302.6,334.5 L303.0,335.6 L303.2,335.8 L303.9,337.6 L305.6,337.4 L306.5,336.7 L307.2,333.5 L306.8,332.4 L308.0,331.1 L308.6,330.5 L310.4,327.9 L311.0,326.3 L310.7,326.5 L311.6,322.4 L311.3,323.1 L312.0,320.6 L312.4,319.1 L313.2,320.8 L313.3,323.2 L313.9,325.3 L313.9,326.3 L313.5,325.1 L314.4,327.9 L314.7,327.3 L315.6,329.0 L316.7,331.4 L316.8,333.5 L317.6,333.0 L319.1,331.1 L319.4,331.0 L319.8,327.1 L321.4,326.5 L321.5,324.7 L323.9,325.5 L325.5,324.4 L327.1,323.1 L328.0,322.9 L328.3,326.5 L328.6,327.5 L329.6,327.3 L329.8,330.5 L330.3,331.1 L331.2,330.6 L330.8,328.6 L332.2,327.2 L332.4,326.2 L333.2,325.7 L333.4,324.4 L333.5,321.5 L334.0,318.2 L334.0,317.9 L335.0,315.1 L334.9,317.1 L336.1,314.8 L335.9,313.6 L336.7,311.1 L337.5,311.4 L338.9,308.9 L339.9,307.1 L340.6,303.8 L341.1,303.7 L341.8,303.2 L343.1,300.0 L343.9,299.9 L344.5,297.7 L345.6,296.1 L347.4,296.5 L347.8,295.6 L347.9,291.8 L349.0,291.2 L348.7,290.3 L349.2,287.1 L349.7,287.0 L350.5,287.4 L350.5,283.0 L350.9,283.1 L351.1,282.5 L350.7,279.4 L350.9,277.7 L352.4,275.1 L352.1,275.2 L351.8,275.0 L353.0,278.6 L352.8,279.2 L353.7,282.4 L353.6,283.1 L353.3,285.5 L353.9,286.5 L354.5,287.0 L355.3,284.0 L355.9,283.2 L356.8,282.3 L356.9,281.8 L357.5,278.5 L357.0,275.9 L357.9,275.4 L357.9,276.2 L357.7,274.6 L357.6,272.7 L358.0,269.1 L358.9,267.4 L358.3,269.3 L358.6,266.2 L359.2,264.5 L359.9,264.9 L359.3,266.2 L359.6,270.4 L359.6,272.0 L360.4,269.7 L360.3,271.5 L360.4,273.6 L361.2,276.2 L361.3,278.5 L361.2,277.3 L361.6,279.9 L362.1,282.6 L361.8,283.9 L361.5,284.4 L362.4,285.2 L362.4,285.9 L362.7,290.6 L361.9,289.9 L362.2,292.5 L362.7,293.3 L363.0,294.6 L362.8,296.5 L363.2,297.0 L363.6,292.4 L363.2,291.4 L363.9,292.3 L364.0,291.3 L363.4,287.1 L364.0,285.7 L364.1,284.6 L363.9,283.2 L364.6,282.3 L365.1,284.0 L365.7,287.2 L365.7,288.5 L365.6,287.1 L366.8,288.8 L366.9,292.4 L366.5,291.1 L367.5,294.1 L368.7,294.9 L371.0,294.1 L371.7,296.0 L372.2,297.2 L372.7,299.0 L373.2,299.4 L373.9,301.6 L373.9,300.5 L374.6,303.6 L374.3,304.7 L374.8,306.6 L375.5,307.2 L375.8,311.0 L376.5,311.6 L376.5,311.2 L376.1,313.7 L376.9,315.4 L376.8,317.3 L377.7,316.9 L378.6,319.9 L378.5,321.7 L379.3,324.3 L379.3,324.8 L379.9,327.6 L380.5,326.5 L381.2,327.6 L382.2,328.7 L382.9,331.9 L382.0,330.9 L381.7,329.2 L382.2,327.7 L381.1,326.0 L381.4,322.8 L380.9,322.8 L380.9,323.8 L381.8,325.0 L382.2,326.4 L381.8,328.1 L382.2,328.6 L382.6,333.6 L382.9,334.5 L383.3,334.6 L384.5,334.3 L384.9,331.6 L385.6,329.9 L386.6,331.4 L386.1,334.9 L386.3,332.8 L387.1,337.7 L387.9,337.0 L388.0,339.4 L387.8,342.2 L388.5,343.7 L389.2,345.4 L389.8,347.2 L389.2,346.6 L390.2,347.3 L390.0,348.2 L390.4,351.2 L390.8,350.8 L391.5,347.8 L391.4,348.2 L391.6,344.2 L392.2,342.1 L392.2,340.8 L391.9,340.2 L392.7,339.4 L393.2,342.9 L394.7,341.3 L395.1,344.1 L395.7,345.2 L395.2,348.7 L395.9,349.7 L396.2,350.6 L396.0,353.4 L397.4,354.0 L397.4,355.4 L397.5,355.9 L397.4,352.7 L397.7,353.0 L398.2,353.0 L398.4,349.4 L399.5,350.1 L399.8,348.4 L400.1,344.2 L399.8,344.1 L399.7,342.1 L400.0,341.2 L399.8,341.0 L400.3,337.4 L400.2,338.4 L401.0,334.4 L400.4,335.5 L400.8,331.9 L400.7,333.0 L401.1,330.9 L401.1,329.1 L401.5,329.0 L402.2,326.5 L402.5,323.7 L402.2,322.8 L402.4,321.4 L402.9,318.4 L402.1,318.5 L403.2,317.9 L403.4,317.0 L403.3,312.1 L403.6,314.4 L402.9,310.0 L403.1,310.0 L403.7,307.7 L403.6,307.4 L404.0,303.6 L403.9,302.5 L404.7,301.6 L404.9,300.0 L404.6,299.1 L405.0,296.2 L405.6,296.4 L405.8,295.8 L406.5,295.4 L406.9,292.0 L407.7,290.0 L407.3,290.2 L407.9,287.5 L408.8,284.5 L409.4,282.8 L409.3,282.6 L409.0,282.5 L409.9,287.0 L409.2,287.6 L410.1,288.1 L410.1,289.1 L410.1,290.6 L409.6,292.8 L409.9,292.5 L410.9,294.3 L410.9,298.3 L410.2,299.5 L410.5,300.7 L411.0,301.5 L411.7,304.8 L411.3,304.2 L411.7,304.8 L411.5,305.5 L411.9,310.1 L412.5,309.9 L412.1,311.3 L412.5,311.7 L413.2,312.9 L412.9,315.7 L413.0,313.5 L413.4,314.1 L414.2,311.8 L414.5,309.2 L415.2,308.6 L414.9,308.7 L415.7,305.5 L415.2,302.8 L415.5,301.5 L415.9,300.0 L415.9,298.7 L416.0,296.7 L416.7,296.9 L416.4,294.8 L417.1,294.4 L417.9,297.5 L418.4,296.8 L417.8,297.9 L418.4,300.5 L419.6,300.8 L419.5,303.9 L420.3,304.9 L420.8,306.5 L420.3,307.3 L421.2,309.8 L421.0,310.7 L421.8,313.3 L421.9,310.6 L422.4,310.3 L422.7,308.5 L422.3,307.1 L423.0,308.0 L422.7,305.2 L422.7,303.4 L423.0,303.5 L423.1,298.8 L423.9,299.8 L423.5,296.6 L424.0,296.7 L423.5,295.7 L424.2,294.4 L424.2,292.0 L424.7,292.6 L425.1,295.0 L425.7,294.7 L426.3,297.6 L426.6,299.1 L427.1,297.2 L427.6,297.0 L427.2,296.4 L428.1,292.3 L428.8,291.6 L428.9,289.7 L429.1,292.2 L429.8,293.4 L430.0,293.8 L430.6,292.4 L431.7,291.3 L432.4,289.0 L433.2,289.5 L433.2,291.6 L432.9,292.6 L433.6,294.8 L433.5,296.7 L433.9,296.0 L434.5,300.4 L434.8,300.2 L434.7,300.0 L434.9,295.5 L435.9,296.1 L435.5,292.8 L435.9,292.2 L435.7,291.9 L435.6,291.0 L436.7,290.0 L436.9,287.3 L436.4,285.2 L436.6,285.3 L437.3,281.6 L437.2,281.1 L438.4,277.9 L439.0,277.4 L439.3,276.3 L439.2,276.9 L440.1,281.0 L439.6,281.9 L440.0,284.1 L439.5,282.6 L440.2,285.0 L440.7,286.0 L440.5,289.5 L440.9,288.0 L440.7,292.7 L440.6,292.0 L441.2,293.8 L440.8,293.8 L441.8,295.3 L441.7,299.5 L441.8,297.8 L441.9,301.2 L442.6,304.3 L442.1,305.9 L442.3,305.6 L442.5,305.5 L442.7,307.6 L442.8,309.8 L442.8,308.1 L443.1,307.3 L442.6,303.9 L443.6,305.7 L443.2,303.0 L443.6,300.3 L442.9,300.6 L442.9,296.1 L442.9,298.0 L443.0,295.8 L443.5,292.6 L443.5,292.5 L444.0,291.2 L443.9,290.7 L443.7,287.2 L444.0,285.8 L444.6,284.2 L444.0,281.6 L443.8,281.1 L445.0,279.9 L444.4,277.5 L444.9,277.2 L444.7,276.3 L445.2,277.7 L444.9,280.1 L445.0,281.6 L445.3,281.5 L445.1,282.0 L444.9,285.1 L444.9,285.8 L445.1,287.6 L444.8,289.7 L445.2,292.4 L445.4,291.8 L445.1,291.7 L445.8,293.8 L445.8,296.2 L445.8,297.8 L445.2,300.9 L445.6,300.8 L445.3,302.4 L446.4,304.7 L445.9,305.5 L446.0,306.6 L446.5,309.4 L445.5,308.3 L446.4,309.1 L446.0,314.1 L446.8,314.1 L446.2,314.2 L447.0,315.4 L446.3,316.9 L446.8,318.9 L446.8,321.0 L447.2,318.4 L446.8,318.0 L446.7,314.7 L447.0,316.5 L447.5,313.8 L447.8,313.2 L447.5,309.5 L447.5,307.8 L448.6,306.2 L447.8,308.1 L448.4,305.0 L448.2,302.9 L449.2,303.4 L449.0,300.0 L449.2,298.1 L450.0,297.7 L450.1,295.0 L450.0,293.5 L450.7,293.8 L451.6,292.0 L453.3,290.5 L453.9,290.6 L454.4,287.3 L455.3,286.9 L456.2,285.1 L456.3,284.3 L456.8,283.4 L457.0,282.9 L457.3,280.9 L456.9,278.0 L457.4,277.7 L456.9,274.2 L457.3,272.4 L457.4,273.8 L458.2,272.5 L457.9,269.9 L458.4,270.0 L457.9,265.3 L458.5,265.3 L458.4,263.3 L458.5,264.2 L458.7,259.7 L458.2,259.1 L458.5,259.5 L458.2,256.7 L458.1,255.6 L457.9,255.0 L458.2,254.6 L459.1,252.9 L459.1,250.9 L458.7,250.2 L458.1,248.7 L458.7,246.0 L459.4,243.6 L458.9,241.8 L458.8,243.4 L459.5,241.6 L458.7,239.2 L459.1,236.2 L458.8,234.2 L459.9,234.8 L459.5,233.2 L458.6,235.2 L458.5,234.6 L459.7,237.1 L459.2,240.0 L460.0,240.9 L459.6,240.2 L460.1,243.8 L460.3,245.0 L460.6,244.8 L461.6,246.2 L461.5,249.1 L461.7,249.6 L461.6,246.7 L462.0,246.0 L461.9,242.9 L462.8,241.9 L462.5,241.2 L463.3,238.3 L463.6,237.2 L463.7,237.0 L463.5,234.5 L464.3,235.7 L464.2,235.8 L464.3,240.5 L464.9,241.9 L464.6,243.4 L465.0,241.8 L465.1,246.3 L465.7,245.2 L465.4,245.7 L465.5,250.6 L466.8,249.8 L466.5,251.4 L467.1,250.5 L467.1,247.4 L466.7,249.1 L466.9,246.3 L466.9,242.6 L467.5,243.1 L468.3,243.2 L468.2,241.1 L468.5,239.8 L468.1,238.3 L468.5,236.0 L468.5,235.7 L469.6,240.5 L468.9,240.7 L469.5,243.4 L469.8,241.7 L470.5,243.4 L470.3,246.1 L470.0,243.2 L470.2,245.1 L471.2,241.1 L471.2,242.0 L470.6,238.0 L471.6,239.3 L471.6,236.2 L471.2,232.6 L471.6,232.6 L472.1,233.4 L471.8,228.1 L471.8,228.1 L472.7,228.7 L472.3,225.7 L472.7,223.0 L473.1,221.2 L474.2,220.9 L474.7,219.4 L475.8,219.2 L475.7,222.5 L477.1,224.1 L476.7,223.6 L477.1,223.3 L477.7,218.3 L477.0,218.7 L476.9,219.1 L477.8,215.6 L478.1,215.4 L477.1,211.5 L477.0,213.3 L478.0,209.3 L477.1,207.1 L478.0,209.0 L477.4,206.8 L477.3,205.3 L477.5,201.4 L477.9,201.8 L478.4,201.2 L478.4,200.3 L478.0,197.1 L477.7,195.7 L478.9,193.5 L478.9,194.5 L478.4,191.4 L478.6,189.7 L478.0,188.5 L479.1,189.3 L478.6,186.3 L478.9,186.2 L479.7,181.9 L480.7,181.5 L480.3,183.6 L480.4,184.1 L480.6,186.7 L481.5,185.6 L480.7,190.2 L481.1,190.8 L481.1,190.7 L481.6,193.9 L481.7,193.2 L481.2,194.6 L481.6,198.5 L481.4,197.6 L481.8,199.7 L482.1,201.2 L481.8,203.6 L482.0,203.9 L482.2,199.3 L481.9,201.3 L482.4,199.1 L482.5,195.7 L481.8,195.3 L482.1,194.4 L482.5,193.0 L481.6,190.9 L482.0,187.3 L482.5,187.7 L482.3,184.5 L481.8,184.8 L482.8,185.4 L482.6,182.4 L482.2,180.9 L482.5,178.4 L481.9,178.4 L482.0,177.3 L482.6,175.9 L483.1,172.6 L483.1,170.3 L482.6,170.5 L483.8,170.6 L484.2,173.7 L484.6,175.2 L484.5,174.7 L484.9,177.9 L484.5,180.1 L485.0,181.0 L484.9,181.9 L484.8,183.3 L485.0,184.5 L484.2,184.8 L485.3,187.1 L485.4,187.6 L485.0,191.0 L484.8,191.5 L485.0,194.1 L484.7,196.3 L484.8,198.2 L485.0,199.1 L485.1,199.2 L485.8,203.1 L485.5,201.4 L486.4,205.9 L485.6,207.6 L486.4,208.4 L485.8,210.2 L486.6,211.3 L485.9,209.9 L486.5,213.1 L486.3,213.8 L487.1,214.8 L487.2,216.9 L487.6,220.5 L487.7,218.7 L487.9,221.6 L487.7,221.9 L487.5,224.1 L488.3,226.7 L488.5,225.7 L488.1,228.9 L488.4,227.6 L489.1,224.4 L488.4,223.7 L489.5,222.9 L488.8,221.4 L490.0,218.5 L489.4,218.3 L489.5,215.5 L489.5,215.5 L490.6,216.0 L490.5,213.1 L490.3,213.1 L491.1,216.5 L491.6,217.2 L491.4,219.3 L492.0,218.1 L491.8,220.4 L492.0,224.6 L492.8,224.1 L492.9,220.8 L493.2,219.6 L492.9,217.9 L493.7,218.1 L493.1,215.5 L493.0,214.5 L493.2,214.2 L493.6,213.1 L493.5,212.6 L494.2,209.7 L493.5,208.9 L494.0,205.0 L494.2,206.4 L494.4,203.5 L494.6,200.8 L494.4,200.5 L494.4,201.5 L495.2,202.7 L494.8,203.1 L495.0,207.7 L495.4,206.7 L495.7,208.3 L495.9,211.0 L495.6,213.6 L496.0,213.1 L496.8,213.0 L497.1,208.6 L497.5,208.8 L497.6,206.8 L497.5,209.1 L497.6,211.6 L497.7,212.5 L497.8,213.8 L498.8,215.5 L498.8,213.5 L499.0,218.6 L498.5,217.0 L499.2,218.2 L499.1,221.0 L499.9,220.1 L499.8,216.0 L499.5,217.4 L500.3,215.1 L500.7,213.1 L500.5,213.7 L500.7,214.2 L501.4,218.0 L501.4,220.2 L500.8,219.7 L501.3,221.0 L500.9,224.5 L501.2,224.4 L500.7,224.4 L501.6,226.0 L501.0,227.6 L501.4,228.5 L500.8,233.3 L500.8,234.0 L501.7,236.1 L501.3,236.4 L501.3,237.6 L501.7,236.6 L501.5,239.9 L501.8,238.0 L501.6,238.3 L501.5,235.8 L502.0,234.4 L502.7,233.3 L502.0,231.9 L502.5,229.1 L502.0,227.8 L502.2,228.4 L502.8,226.2 L502.3,225.0 L503.3,221.9 L503.1,221.0 L503.2,221.8 L503.4,225.3 L503.6,223.6 L504.6,226.5 L503.9,229.1 L504.3,230.5 L505.2,232.6 L505.1,230.5 L505.5,233.6 L505.5,233.1 L506.2,228.9 L505.7,227.9 L506.4,226.5 L506.6,225.5 L506.2,223.2 L507.0,222.6 L507.4,224.7 L507.3,223.5 L508.2,225.2 L507.8,227.1 L508.1,230.8 L508.7,232.6 L508.8,232.5 L509.2,234.3 L509.4,235.2 L509.4,232.9 L509.7,232.0 L510.4,231.2 L510.2,231.4 L510.8,226.3 L511.3,226.3 L511.8,226.4 L511.8,224.1 L511.4,223.7 L511.8,225.3 L512.8,229.9 L513.0,228.2 L512.5,232.5 L513.4,232.2 L513.8,234.2 L514.0,234.8 L514.1,236.8 L514.8,236.0 L514.3,235.2 L515.3,232.6 L514.4,229.2 L514.9,230.6 L515.4,228.0 L515.2,224.6 L516.1,226.1 L515.5,225.4 L515.5,222.6 L516.3,220.2 L516.1,220.5 L516.5,217.8 L516.2,219.0 L517.2,220.2 L517.0,221.6 L517.6,223.4 L517.9,226.8 L517.5,229.1 L518.1,228.9 L518.1,231.8 L518.5,230.9 L519.5,235.0 L519.4,236.8 L519.6,236.3 L520.4,238.3 L520.9,239.0 L520.9,240.2 L522.1,242.2 L522.4,243.7 L522.8,246.2 L523.7,245.8 L523.6,248.3 L524.1,250.7 L524.5,252.3 L524.1,253.0 L524.8,255.7 L524.7,257.6 L524.6,257.3 L525.2,257.6 L525.8,261.6 L525.7,261.9 L525.4,263.2 L526.4,264.0 L526.4,266.8 L525.5,268.6 L525.9,271.0 L526.1,268.8 L526.1,271.2 L526.5,273.3 L526.0,274.7 L526.8,275.7 L526.9,276.9 L526.3,277.6 L526.3,281.2 L526.4,281.3 L526.5,282.4 L527.3,283.4 L527.3,284.9 L527.2,288.6 L527.4,288.6 L527.0,290.6 L527.4,287.9 L527.8,287.8 L527.8,287.7 L528.2,284.8 L527.9,285.0 L528.6,281.9 L528.4,280.3 L529.0,280.2 L529.0,279.0 L528.3,275.5 L528.9,274.7 L529.0,277.2 L529.7,276.5 L529.7,281.0 L529.3,280.5 L529.7,283.4 L529.9,282.6 L529.4,286.3 L530.1,287.8 L530.5,286.5 L530.4,289.4 L530.4,291.8 L530.7,292.9 L530.1,291.7 L530.6,292.9 L531.1,297.8 L530.9,296.5 L530.4,300.4 L530.6,299.0 L530.7,303.2 L531.3,303.4 L531.8,302.0 L531.3,299.1 L532.2,299.4 L532.0,296.1 L531.9,295.6 L532.4,294.1 L533.2,292.1 L532.6,290.5 L533.6,289.6 L533.6,289.9 L533.2,287.9 L533.7,285.8 L534.6,283.6 L534.4,280.8 L534.6,281.8 L535.6,279.1 L536.1,277.9 L536.3,274.9 L536.3,276.1 L536.8,275.3 L536.2,271.4 L536.6,269.3 L537.4,267.4 L537.1,267.4 L537.5,264.4 L537.7,263.9 L537.7,263.0 L537.7,259.9 L538.1,260.0 L538.5,260.0 L538.5,257.1 L538.6,258.4 L539.1,260.9 L539.3,263.2 L539.6,262.2 L540.1,264.6 L540.5,267.5 L540.8,268.8 L540.4,269.8 L540.9,269.9 L541.8,272.9 L542.1,273.0 L543.0,275.8 L543.3,276.3 L544.0,277.9 L543.9,278.7 L544.5,279.7 L545.0,282.0 L545.7,284.3 L545.8,285.2 L545.9,287.2 L546.5,288.4 L547.2,288.8 L547.4,289.5 L547.0,292.1 L547.6,295.3 L547.9,295.8 L548.4,297.5 L548.9,298.6 L548.5,299.6 L549.6,300.1 L549.8,304.0 L550.0,303.2 L549.9,306.6 L550.1,305.6 L549.8,307.2 L550.7,308.2 L550.2,313.0 L550.4,312.1 L551.2,312.8 L551.2,316.5 L550.7,317.2 L551.8,316.9 L550.9,321.0 L551.5,320.9 L552.4,318.7 L552.3,316.5 L552.0,315.6 L552.7,312.9 L552.4,314.8 L553.3,311.6 L553.7,311.6 L554.1,308.6 L554.0,307.4 L554.1,305.8 L554.6,302.4 L555.0,304.3 L555.5,302.7 L556.5,299.5 L556.9,300.0 L557.4,296.3 L557.9,295.7 L557.8,294.9 L558.1,292.0 L559.3,293.1 L559.7,289.6 L559.5,290.1 L560.3,288.2 L560.4,285.6 L561.2,282.5 L561.5,284.4 L562.1,280.6 L562.0,279.8 L562.0,278.6 L562.9,276.8 L563.7,278.1 L564.2,278.6 L564.3,281.0 L565.0,284.4 L564.5,282.8 L565.4,285.6 L566.2,288.1 L566.7,287.3 L567.3,289.8 L567.9,290.7 L568.6,289.8 L568.3,287.4 L568.5,287.8 L569.0,285.3 L570.2,282.7 L570.5,281.0 L570.5,280.6 L570.5,280.5 L571.0,284.6 L572.5,286.3 L572.1,287.7 L573.0,288.1 L573.0,288.5 L573.8,290.3 L574.6,294.3 L574.9,293.4 L575.2,294.7 L574.9,297.3 L575.4,299.4 L576.9,297.4 L576.8,300.8 L577.5,299.9 L577.3,298.8 L578.6,295.0 L579.2,295.9 L579.3,293.2 L580.5,292.4 L581.0,289.8 L581.6,291.1 L582.6,288.1 L583.3,289.6 L583.5,290.5 L583.1,293.8 L584.0,292.7 L583.7,294.2 L584.0,295.4 L584.5,298.6 L584.9,297.4 L585.1,300.8 L585.4,302.7 L587.2,305.2 L587.7,304.2 L588.1,305.8 L589.2,306.1 L590.0,307.9 L590.0,309.9 L590.3,311.3 L591.7,312.2 L591.9,313.4 L592.7,316.0 L593.4,315.8 L593.6,319.3 L593.4,318.9 L594.4,320.9 L594.4,323.5 L595.9,323.2 L596.4,327.4 L595.9,328.0 L597.0,328.5 L597.5,330.3 L598.3,329.4 L599.2,333.5 L599.5,333.6 L599.5,336.2 L600.5,336.9 L601.3,336.1 L601.2,338.9 L602.1,342.1 L601.9,343.6 L602.8,343.7 L602.7,340.9 L603.1,341.1 L604.0,339.6 L603.4,339.5 L603.7,336.8 L603.7,334.9 L604.9,332.9 L604.7,332.7 L605.2,331.1 L605.5,330.2 L605.2,326.3 L605.8,326.0 L605.7,324.2 L606.8,323.9 L607.1,320.6 L608.0,319.0 L607.8,317.9 L608.1,318.5 L608.8,315.9 L609.6,316.8 L610.3,319.9 L611.6,319.1 L612.1,320.9 L612.4,319.6 L613.1,318.4 L613.4,318.6 L613.7,316.7 L614.8,313.1 L615.5,311.4 L615.4,310.9 L615.3,313.9 L616.5,315.1 L616.4,314.5 L617.7,316.6 L617.3,318.0 L618.3,318.6 L618.4,320.9 L619.0,320.4 L619.9,324.9 L620.7,325.0 L620.9,326.0 L621.2,329.3 L621.8,330.5 L622.8,330.0 L623.5,333.9 L624.0,333.6 L625.7,331.7 L626.5,331.0 L627.4,331.2 L627.5,332.3 L627.3,335.1 L627.3,337.1 L627.7,339.4 L628.4,339.1 L629.0,339.7 L628.9,341.0 L629.0,343.7 L629.4,343.2 L629.3,339.1 L629.2,340.3 L629.1,337.8 L629.2,334.6 L629.4,336.7 L629.8,332.6 L629.0,330.3 L629.0,329.4 L629.7,330.4 L629.6,327.0 L628.8,328.1 L629.4,325.4 L629.9,322.5 L629.5,322.3 L629.1,320.4 L629.9,319.9 L630.1,318.5 L629.6,317.1 L629.9,313.5 L629.2,315.3 L629.6,311.3 L630.2,311.1 L629.4,309.3 L630.1,308.1 L630.4,306.4 L629.9,303.3 L629.6,302.8 L630.6,300.8 L630.0,300.8 L629.8,300.8 L630.6,299.3 L630.6,297.1 L630.0,295.1 L630.6,293.1 L629.8,292.1 L630.8,288.8 L630.6,288.8 L630.2,286.5 L630.2,286.2 L630.0,284.7 L631.2,282.4 L631.1,281.1 L631.2,281.2 L631.2,280.2 L631.1,278.4 L630.9,276.3 L631.0,275.8 L631.0,273.0 L631.0,274.7 L631.3,277.5 L631.5,275.7 L632.5,278.7 L631.9,282.0 L632.6,283.0 L632.9,282.3 L632.7,285.2 L633.6,285.6 L634.3,285.8 L635.3,282.7 L635.6,280.6 L635.7,280.9 L635.9,285.4 L636.5,283.7 L635.7,288.3 L636.2,288.6 L636.9,290.6 L637.1,290.8 L637.0,293.9 L636.8,294.3 L637.1,293.5 L636.7,296.2 L637.4,298.2 L637.7,295.4 L638.6,294.1 L638.4,292.5 L639.5,290.3 L639.9,290.7 L640.1,294.0 L640.5,294.4 L640.8,295.6 L640.7,297.8 L640.8,299.4 L640.9,299.4 L641.4,301.1 L642.0,304.5 L642.2,302.6 L642.4,305.8 L642.7,305.6 L643.2,302.7 L643.5,300.4 L643.7,301.4 L643.5,300.2 L643.5,298.3 L644.6,295.1 L645.0,295.1 L644.9,293.2 L645.5,291.4 L646.7,291.4 L648.2,289.4 L648.9,290.9 L649.0,293.2 L648.7,293.9 L648.9,293.5 L649.1,296.2 L649.2,296.7 L649.2,297.4 L649.5,301.6 L648.9,302.8 L649.1,304.0 L649.8,306.0 L649.4,305.9 L650.4,308.6 L650.0,308.0 L649.9,310.1 L650.6,313.3 L650.1,312.2 L650.4,315.6 L650.7,315.9 L650.8,313.9 L651.2,314.6 L651.4,311.1 L651.8,309.9 L651.1,310.3 L651.7,307.7 L652.3,307.3 L652.7,304.4 L652.6,302.7 L652.5,300.8 L653.3,300.2 L654.2,298.8 L654.5,298.6 L656.1,294.1 L656.3,294.4 L656.6,297.4 L657.7,295.4 L658.8,298.2 L659.6,298.6 L659.3,293.9 L659.5,292.3 L660.8,294.0 L661.0,291.1 L661.2,289.1 L661.3,288.1 L661.8,287.1 L662.4,283.5 L663.3,285.1 L663.4,283.5 L663.8,280.6 L664.4,278.6 L663.8,276.2 L663.8,276.4 L664.1,273.9 L664.5,272.4 L665.1,271.9 L664.6,272.0 L664.7,268.9 L664.9,268.2 L665.5,267.8 L666.3,263.3 L665.9,264.3 L665.8,260.3 L666.4,260.4 L666.6,257.7 L667.3,255.4 L668.2,256.4 L668.8,253.1 L668.9,252.8 L669.5,252.1 L670.2,248.6 L670.6,250.1 L671.3,246.6 L671.8,245.6 L671.9,244.0"/>
</g>
<path class="ax" stroke-width="1.3" d="M87.2,93.0 V551.5 H672.2"/>
<path class="ax" stroke-width="1.5" d="M672.2,92.5 V552.0"/>
<path class="ln" stroke="#E0925A" stroke-width="4.4" d="M636.5,550.8 H652.3"/>
<text transform="translate(0,127.2) scale(1,1.08)" font-size="14.6" x="352.6" y="0">沪深<tspan x="381.8" textLength="21.9" lengthAdjust="spacingAndGlyphs">300</tspan><tspan x="406.6" dy="-0.5" font-size="13.2">(</tspan><tspan x="411.7" dy="0.5" letter-spacing="1.3">右轴</tspan><tspan x="443" dy="-0.5" font-size="13.2">)</tspan></text>
<text transform="translate(557.5,102) scale(0.885,1)" font-size="15.3">2025</text>
<text transform="translate(525.5,137.3) scale(0.885,1)" font-size="15.3">2024</text>
<path d="M379.1,199.1 L371,228" stroke="#222" stroke-width="1.25" fill="none"/>
<path d="M368.4,237.1 L366.0,223.9 L376.6,227.5 Z" fill="#222"/>
</svg></body></html>
